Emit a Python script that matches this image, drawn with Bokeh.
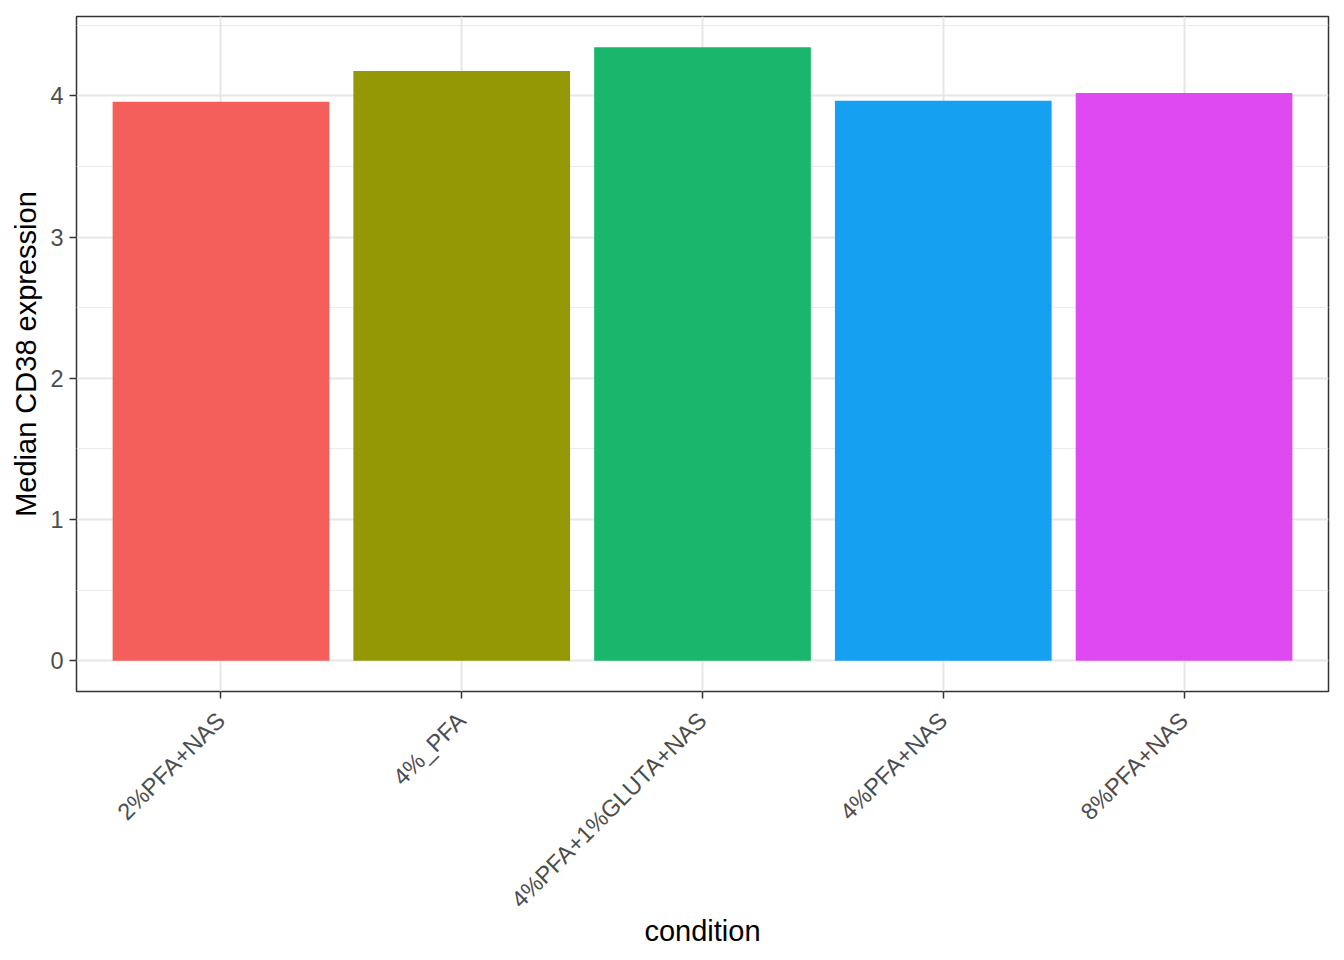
from bokeh.plotting import figure
from bokeh.models import FactorRange, Range1d, FixedTicker, ColumnDataSource
from bokeh.embed import file_html
from bokeh.resources import INLINE
import math

conditions = ["2%PFA+NAS", "4%_PFA", "4%PFA+1%GLUTA+NAS", "4%PFA+NAS", "8%PFA+NAS"]
median_cd38 = [3.958, 4.176, 4.345, 3.965, 4.021]
bar_colors = ["#F45F5B", "#939804", "#1AB66C", "#16A0F1", "#DF4AF0"]
y_ticks = [0, 1, 2, 3, 4]
y_minor = [0.5, 1.5, 2.5, 3.5, 4.5]

FONT = "Liberation Sans"

src = ColumnDataSource(dict(cond=conditions, val=median_cd38, col=bar_colors))

ymax = max(median_cd38)
pad = 0.05 * ymax

p = figure(
    width=1330, height=950,
    x_range=FactorRange(factors=conditions, range_padding=0.04, range_padding_units="percent"),
    y_range=Range1d(-pad, ymax + pad),
    output_backend="svg", toolbar_location=None,
    min_border_left=76, min_border_right=2, min_border_top=16, min_border_bottom=252,
    background_fill_color="white", border_fill_color="white",
)

p.vbar(x="cond", top="val", width=0.9, bottom=0, color="col", line_color=None, source=src)

p.outline_line_color = "#333333"
p.outline_line_width = 1.5

p.yaxis.ticker = FixedTicker(ticks=y_ticks, minor_ticks=y_minor)
p.ygrid.ticker = p.yaxis.ticker
p.ygrid.grid_line_color = "#E6E6E6"
p.ygrid.grid_line_width = 2
p.ygrid.minor_grid_line_color = "#EBEBEB"
p.ygrid.minor_grid_line_width = 1
p.xgrid.grid_line_color = "#E6E6E6"
p.xgrid.grid_line_width = 2

for ax in (p.xaxis[0], p.yaxis[0]):
    ax.axis_line_color = None
    ax.major_tick_line_color = "#333333"
    ax.major_tick_line_width = 1.5
    ax.major_tick_out = 7
    ax.major_tick_in = 0
    ax.minor_tick_line_color = None
    ax.major_label_text_font = FONT
    ax.major_label_text_font_size = "23.5px"
    ax.major_label_text_color = "#4D4D4D"
    ax.major_label_standoff = 6
    ax.axis_label_text_font = FONT
    ax.axis_label_text_font_size = "29px"
    ax.axis_label_text_font_style = "normal"
    ax.axis_label_text_color = "black"

p.yaxis.axis_label = "Median CD38 expression"
p.yaxis.axis_label_standoff = 5
p.xaxis.axis_label = "condition"
p.xaxis.axis_label_standoff = -10
p.xaxis.major_label_standoff = 18
p.xaxis.major_label_orientation = math.pi / 4

open("out.html", "w").write(file_html(p, INLINE))
